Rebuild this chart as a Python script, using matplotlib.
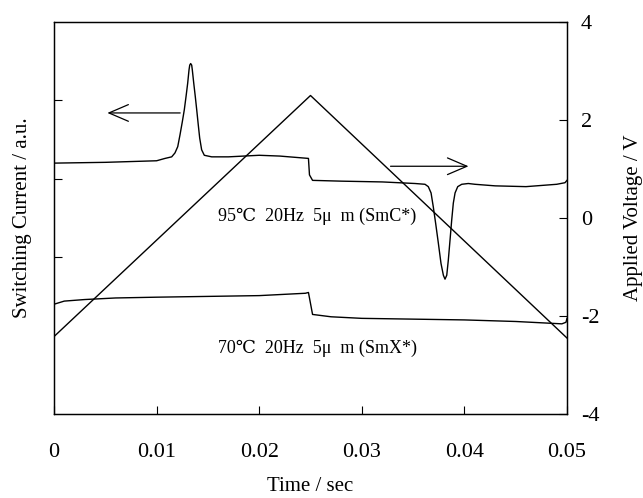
import matplotlib
matplotlib.use("Agg")
import matplotlib.pyplot as plt

plt.rcParams['font.family'] = ['Liberation Serif', 'DejaVu Serif']

# Upper switching current trace (SmC*, 95 C) - arbitrary units on left axis
t_smc = [0, 0.005, 0.0100, 0.01082, 0.01147, 0.01179, 0.01206, 0.01228, 0.01251,
         0.01270, 0.01287, 0.01303, 0.01316, 0.01323, 0.01332, 0.01342, 0.01348,
         0.01362, 0.01377, 0.01391, 0.01406, 0.01420, 0.01439, 0.01465, 0.01537,
         0.0170, 0.0185, 0.0200, 0.0220, 0.0248, 0.0249, 0.0252, 0.0280, 0.0320,
         0.03519, 0.03616, 0.03648, 0.03675, 0.03697, 0.03720, 0.03746, 0.03772,
         0.03795, 0.03811, 0.03828, 0.03843, 0.03860, 0.03876, 0.03892, 0.03909,
         0.03935, 0.03974, 0.04038, 0.04103, 0.0430, 0.0460, 0.0490, 0.0498, 0.05]
i_smc = [3.20, 3.21, 3.23, 3.26, 3.28, 3.33, 3.41, 3.56, 3.73,
         3.88, 4.05, 4.22, 4.39, 4.45, 4.47, 4.45, 4.39,
         4.22, 4.05, 3.88, 3.69, 3.52, 3.37, 3.30, 3.28,
         3.28, 3.29, 3.30, 3.29, 3.26, 3.05, 2.98, 2.97, 2.96,
         2.94, 2.93, 2.90, 2.82, 2.64, 2.43, 2.18, 1.92,
         1.77, 1.72, 1.77, 1.96, 2.22, 2.47, 2.69, 2.82,
         2.90, 2.93, 2.94, 2.93, 2.91, 2.90, 2.93, 2.95, 2.98]

# Lower switching current trace (SmX*, 70 C)
t_smx = [0, 0.001, 0.003, 0.006, 0.010, 0.015, 0.020, 0.0245, 0.0248, 0.0252,
         0.027, 0.030, 0.035, 0.040, 0.045, 0.0495, 0.0499, 0.05]
i_smx = [1.40, 1.44, 1.46, 1.48, 1.49, 1.50, 1.51, 1.54, 1.55, 1.27,
         1.24, 1.22, 1.21, 1.20, 1.18, 1.15, 1.17, 1.22]

# Applied triangular voltage (right axis)
t_volt = [0, 0.025, 0.05]
volt = [-2.42, 2.5, -2.45]

x_ticks = [0, 0.01, 0.02, 0.03, 0.04, 0.05]
x_labels = ["0", "0.01", "0.02", "0.03", "0.04", "0.05"]
v_ticks = [-4, -2, 0, 2, 4]
v_labels = ["-4", "-2", "0", "2", "4"]
i_ticks = [2, 3, 4]

label_smc = "95\u2103  20Hz  5\u03bc  m (SmC*)"
label_smx = "70\u2103  20Hz  5\u03bc  m (SmX*)"

W, H = 643, 498
fig = plt.figure(figsize=(W / 100, H / 100), dpi=100)
ax = fig.add_axes([54 / W, (H - 414) / H, 513 / W, 392 / H])
ax2 = ax.twinx()

lw = 1.0
ax.plot(t_smc, i_smc, color='black', lw=lw)
ax.plot(t_smx, i_smx, color='black', lw=lw)
ax2.plot(t_volt, volt, color='black', lw=lw)

ax.set_xlim(0, 0.05)
ax.set_ylim(0, 5)
ax2.set_ylim(-4, 4)

ax.set_xticks(x_ticks)
ax.set_xticklabels(x_labels, fontsize=16)
ax.set_yticks(i_ticks)
ax.set_yticklabels([])
ax2.set_yticks(v_ticks)
ax2.set_yticklabels(v_labels, fontsize=16)

ax.tick_params(axis='x', direction='in', length=6, width=0.8, pad=21, top=False)
ax.tick_params(axis='y', direction='in', length=6, width=0.8, right=False)
ax2.tick_params(axis='y', direction='in', length=6, width=0.8, pad=10)

for a in (ax, ax2):
    for s in a.spines.values():
        s.set_linewidth(0.9)

ax.set_xlabel("Time / sec", fontsize=15, labelpad=11)
ax.set_ylabel("Switching Current / a.u.", fontsize=15, labelpad=12)
ax2.set_ylabel("Applied Voltage / V", fontsize=15, labelpad=18, rotation=90)

arrow_kw = dict(arrowstyle='->,head_length=0.7,head_width=0.3', lw=0.9,
                color='black', mutation_scale=20, shrinkA=0, shrinkB=0)
ax.annotate('', xy=(0.0052, 3.84), xytext=(0.0123, 3.84), arrowprops=arrow_kw)
ax.annotate('', xy=(0.0404, 3.16), xytext=(0.0328, 3.16), arrowprops=arrow_kw)

ax.text(0.0256, 2.52, label_smc, fontsize=13, ha='center', va='center')
ax.text(0.0257, 0.84, label_smx, fontsize=13, ha='center', va='center')

fig.savefig("out.png", dpi=100)
